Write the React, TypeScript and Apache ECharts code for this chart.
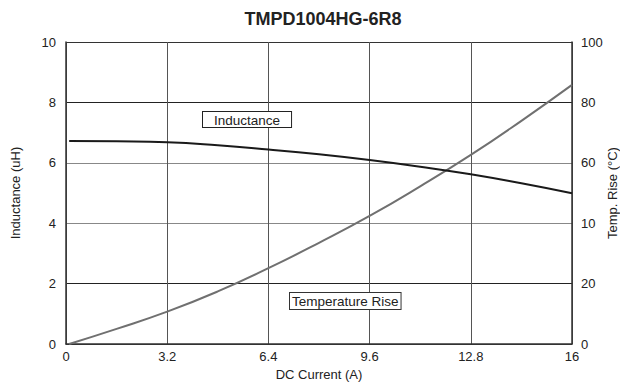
import React, { useEffect, useRef } from "react";
import * as echarts from "echarts";

const current = [0.1, 1.6, 3.2, 4.8, 6.4, 8, 9.6, 11.2, 12.8, 14.4, 16];
const inductance = [6.72, 6.71, 6.68, 6.58, 6.44, 6.28, 6.09, 5.87, 5.62, 5.32, 4.99];
const tempRise = [0, 5.0, 10.7, 17.4, 25.1, 33.5, 42.4, 52.2, 62.6, 73.9, 85.8];
const xTickLabels = ["0", "3.2", "6.4", "9.6", "12.8", "16"];
const leftTickLabels = ["0", "2", "4", "6", "8", "10"];
const rightTickLabels = ["0", "20", "10", "60", "80", "100"];

const FONT = "'Liberation Sans', Arial, sans-serif";

export default function App() {
  const ref = useRef<HTMLDivElement>(null);
  useEffect(() => {
    if (!ref.current) return;
    const chart = echarts.init(ref.current, null, { renderer: "svg" });
    const indData = current.map((c, i) => [c, inductance[i]]);
    const tempData = current.map((c, i) => [c, tempRise[i]]);
    chart.setOption({
      animation: false,
      backgroundColor: "#fff",
      textStyle: { fontFamily: FONT },
      title: {
        text: "TMPD1004HG-6R8",
        left: 318,
        textAlign: "center",
        top: 5,
        textStyle: { fontFamily: FONT, fontSize: 18, fontWeight: "bold", color: "#222" },
      },
      grid: { left: 66, right: 48, top: 42, bottom: 43, containLabel: false, outerBoundsMode: "none" },
      xAxis: {
        type: "value",
        min: 0,
        max: 16,
        interval: 3.2,
        name: "DC Current (A)",
        nameLocation: "middle",
        nameGap: 24,
        nameTextStyle: { fontSize: 13, color: "#222", fontFamily: FONT },
        axisLine: { show: true, lineStyle: { color: "#333", width: 1.5 } },
        axisTick: { show: false },
        axisLabel: {
          fontSize: 13,
          color: "#222",
          margin: 6,
          fontFamily: FONT,
          formatter: (v: number) => xTickLabels[Math.round(v / 3.2)] ?? "",
        },
        splitLine: { show: true, lineStyle: { color: "#555", width: 1 } },
      },
      yAxis: [
        {
          type: "value",
          min: 0,
          max: 10,
          interval: 2,
          name: "Inductance (uH)",
          nameLocation: "middle",
          nameGap: 44,
          nameTextStyle: { fontSize: 13, color: "#222", fontFamily: FONT },
          axisLine: { show: true, lineStyle: { color: "#333", width: 1.5 } },
          axisTick: { show: false },
          axisLabel: {
            fontSize: 13,
            color: "#222",
            margin: 10,
            fontFamily: FONT,
            formatter: (v: number) => leftTickLabels[Math.round(v / 2)] ?? "",
          },
          splitLine: {
            show: true,
            lineStyle: { color: ["#333", "#222", "#888", "#888", "#222", "#333"], width: 1 },
          },
        },
        {
          type: "value",
          min: 0,
          max: 100,
          interval: 20,
          position: "right",
          axisLine: { show: true, lineStyle: { color: "#333", width: 1.5 } },
          axisTick: { show: false },
          axisLabel: {
            fontSize: 13,
            color: "#222",
            margin: 9,
            fontFamily: FONT,
            formatter: (v: number) => rightTickLabels[Math.round(v / 20)] ?? "",
          },
          splitLine: { show: false },
        },
      ],
      series: [
        {
          name: "Inductance",
          type: "line",
          yAxisIndex: 0,
          data: indData,
          smooth: true,
          showSymbol: false,
          lineStyle: { color: "#1a1a1a", width: 2 },
          z: 3,
        },
        {
          name: "Temperature Rise",
          type: "line",
          yAxisIndex: 1,
          data: tempData,
          smooth: true,
          showSymbol: false,
          lineStyle: { color: "#707070", width: 2 },
          z: 2,
        },
      ],
      graphic: [
        {
          type: "text",
          x: 612,
          y: 193,
          rotation: Math.PI / 2,
          z: 10,
          style: {
            text: "Temp. Rise (°C)",
            font: `13px ${FONT}`,
            fill: "#222",
            align: "center",
            verticalAlign: "middle",
          },
        },
        {
          type: "text",
          left: 202,
          top: 111,
          z: 10,
          style: {
            text: "Inductance",
            font: `13.5px ${FONT}`,
            fill: "#222",
            backgroundColor: "#fff",
            borderColor: "#222",
            borderWidth: 1,
            padding: [1, 11, 0, 11],
          },
        },
        {
          type: "text",
          left: 289,
          top: 292,
          z: 10,
          style: {
            text: "Temperature Rise",
            font: `13.5px ${FONT}`,
            fill: "#222",
            backgroundColor: "#fff",
            borderColor: "#333",
            borderWidth: 1,
            padding: [1, 2, 1, 2],
          },
        },
      ],
    });
    return () => chart.dispose();
  }, []);
  return (
    <div
      ref={ref}
      style={{ position: "absolute", left: 0, top: 0, width: 620, height: 387 }}
    />
  );
}
